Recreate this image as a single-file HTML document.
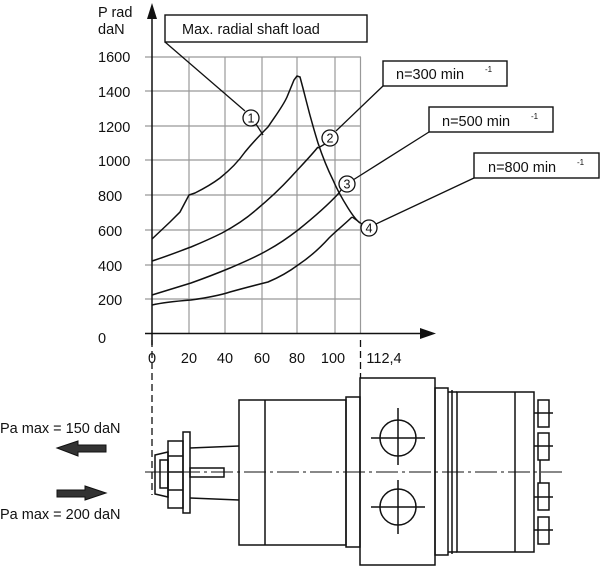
<!DOCTYPE html>
<html><head><meta charset="utf-8"><style>
html,body{margin:0;padding:0;background:#fff;}
svg{display:block;font-family:"Liberation Sans",sans-serif;}
</style></head><body>
<svg width="600" height="566" viewBox="0 0 600 566" xmlns="http://www.w3.org/2000/svg">
<g stroke="#999" stroke-width="1.2" fill="none">
<line x1="145" y1="57" x2="361" y2="57"/><line x1="145" y1="91" x2="361" y2="91"/>
<line x1="145" y1="126" x2="361" y2="126"/><line x1="145" y1="160" x2="361" y2="160"/>
<line x1="145" y1="195" x2="361" y2="195"/><line x1="145" y1="230" x2="361" y2="230"/>
<line x1="145" y1="265" x2="361" y2="265"/><line x1="145" y1="299" x2="361" y2="299"/>
<line x1="189" y1="57" x2="189" y2="333"/><line x1="225" y1="57" x2="225" y2="333"/>
<line x1="262" y1="57" x2="262" y2="333"/><line x1="297" y1="57" x2="297" y2="333"/>
<line x1="335" y1="57" x2="335" y2="333"/><line x1="360.5" y1="57" x2="360.5" y2="333"/>
</g>
<g stroke="#111" stroke-width="1.5" fill="none">
<line x1="152" y1="10" x2="152" y2="345"/>
<line x1="145" y1="333.5" x2="425" y2="333.5"/>
<path d="M152,239 L170,222 L180,212 L189,195 L195,193 C205,188 212,184 220,178 C230,170 238,162 245,152 C254,141 262,133 268,127 C276,115 283,106 287,97 L294,80 L297,76 L300,77 C303,88 304,92 306,100 C310,116 314,130 318,143 C323,158 328,170 333,180 C338,192 343,200 348,208 C353,216 356,220 360,223"/>
<path d="M152,261 C165,257 180,251 191,247 C203,242 212,238 222,233 C235,226 247,218 256,210 C268,200 280,189 291,177 C300,167 310,157 318,147"/>
<path d="M152,295 C165,291 178,287 191,283 C205,278 218,273 230,268 C244,262 256,257 268,250 C279,244 289,237 298,230 C313,218 327,206 339,193"/>
<path d="M152,305 C165,302 178,301 191,300 C205,298 218,296 230,292 C244,288 256,285 268,282 C280,277 290,271 298,265 C310,257 320,248 329,238 C337,230 345,224 352,217"/>
</g>
<polygon points="152,3 147,19 157,19" fill="#111"/>
<polygon points="436,333.5 420,328 420,339" fill="#111"/>
<g stroke="#111" stroke-width="1.4" fill="#fff">
<rect x="165" y="15" width="202" height="27"/>
<rect x="383" y="61" width="124" height="25"/>
<rect x="429" y="107" width="124" height="25"/>
<rect x="474" y="153" width="125" height="25"/>
</g>
<g stroke="#111" stroke-width="1.3" fill="none">
<line x1="165" y1="42" x2="245" y2="111"/><line x1="256" y1="124" x2="263" y2="135"/>
<line x1="383" y1="86" x2="336" y2="131"/><line x1="325" y1="144" x2="318" y2="148"/>
<line x1="429" y1="132" x2="353" y2="180"/><line x1="341" y1="190" x2="339" y2="193"/>
<line x1="474" y1="178" x2="376" y2="224"/><line x1="362" y1="224" x2="352" y2="217"/>
</g>
<g stroke="#111" stroke-width="1.3" fill="#fff">
<circle cx="251" cy="118" r="8"/><circle cx="330" cy="138" r="8"/>
<circle cx="347" cy="184" r="8"/><circle cx="369" cy="228" r="8"/>
</g>
<g font-size="12.5" fill="#111" text-anchor="middle">
<text x="251" y="122.5">1</text><text x="330" y="142.5">2</text>
<text x="347" y="188.5">3</text><text x="369" y="232.5">4</text>
</g>
<g font-size="14.5" fill="#111">
<text x="182" y="34">Max. radial shaft load</text>
<text x="396" y="79">n=300 min</text><text x="485" y="72" font-size="8">-1</text>
<text x="442" y="126">n=500 min</text><text x="531" y="119" font-size="8">-1</text>
<text x="488" y="172">n=800 min</text><text x="577" y="165" font-size="8">-1</text>
<text x="98" y="17">P rad</text><text x="98" y="34">daN</text>
<text x="98" y="62">1600</text><text x="98" y="97">1400</text><text x="98" y="132">1200</text>
<text x="98" y="166">1000</text><text x="98" y="201">800</text><text x="98" y="236">600</text>
<text x="98" y="271">400</text><text x="98" y="305">200</text><text x="98" y="343">0</text>
</g>
<g font-size="14.5" fill="#111" text-anchor="middle">
<text x="152" y="363">0</text><text x="189" y="363">20</text><text x="225" y="363">40</text>
<text x="262" y="363">60</text><text x="297" y="363">80</text><text x="333" y="363">100</text>
<text x="384" y="363">112,4</text>
</g>
<g stroke="#111" stroke-width="1.3" fill="none" stroke-dasharray="7,4">
<line x1="152" y1="340" x2="152" y2="495"/>
<line x1="360.5" y1="340" x2="360.5" y2="378"/>
</g>
<line x1="145" y1="472" x2="562" y2="472" stroke="#111" stroke-width="1.1" stroke-dasharray="22,4,3,4"/>
<g stroke="#111" stroke-width="1.5" fill="none">
<rect x="239" y="400" width="107" height="145"/>
<line x1="265" y1="400" x2="265" y2="545"/>
<rect x="346" y="397" width="14" height="150"/>
<rect x="360" y="378" width="75" height="187"/>
<rect x="435" y="388" width="13" height="167"/>
<line x1="448" y1="392" x2="457" y2="392"/><line x1="448" y1="552" x2="457" y2="552"/>
<line x1="452" y1="390" x2="452" y2="554"/>
<rect x="457" y="392" width="77" height="160"/>
<line x1="515" y1="392" x2="515" y2="552"/>
<rect x="538" y="400" width="11" height="27"/><rect x="538" y="433" width="11" height="27"/>
<rect x="538" y="483" width="11" height="27"/><rect x="538" y="517" width="11" height="27"/>
<line x1="534" y1="413" x2="553" y2="413"/><line x1="534" y1="446" x2="553" y2="446"/>
<line x1="534" y1="497" x2="553" y2="497"/><line x1="534" y1="530" x2="553" y2="530"/>
<line x1="540" y1="460" x2="540" y2="483"/>
<circle cx="398" cy="438" r="18"/><circle cx="398" cy="507" r="18"/>
<line x1="371" y1="438" x2="425" y2="438"/><line x1="398" y1="408" x2="398" y2="465"/>
<line x1="371" y1="507" x2="425" y2="507"/><line x1="398" y1="480" x2="398" y2="534"/>
<path d="M190,448 L239,446 M190,498 L239,500"/>
<rect x="190" y="468" width="34" height="9"/>
<rect x="183" y="432" width="7" height="81"/>
<path d="M168,441 L183,441 L183,508 L168,508 Z M168,456 L183,456 M168,472 L183,472 M168,490 L183,490"/>
<path d="M155,455 L168,452 L168,497 L155,494 Z"/>
<rect x="160" y="460" width="8" height="28"/>
</g>
<polygon points="57,448 78,441 78,445 106,445 106,452 78,452 78,456" fill="#333" stroke="#111"/>
<polygon points="106,493 85,486 85,490 57,490 57,497 85,497 85,500" fill="#333" stroke="#111"/>
<g font-size="14.5" fill="#111">
<text x="0" y="433">Pa max = 150 daN</text>
<text x="0" y="519">Pa max = 200 daN</text>
</g>
</svg>
</body></html>
